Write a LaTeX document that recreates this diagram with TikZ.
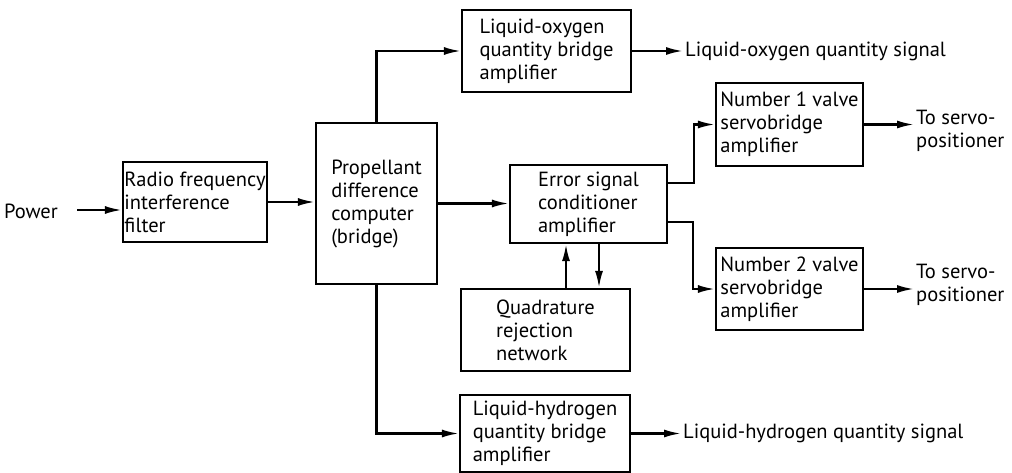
\documentclass[tikz,border=0pt]{standalone}
\usepackage{fontspec}
\setmainfont{PT Sans}
\usetikzlibrary{arrows.meta}
\begin{document}
\begin{tikzpicture}[x=1pt,y=-1pt,
  blk/.style={draw,line width=2.2pt,inner sep=0pt,align=left,
    font=\fontsize{20.5}{23}\selectfont},
  lbl/.style={inner sep=2pt,align=left,font=\fontsize{20.5}{23}\selectfont},
  conn/.style={line width=2.2pt,-{Latex[length=17pt,width=8pt]}}]
\useasboundingbox[fill=white] (0,0) rectangle (1012,473);
\node[blk,minimum width=144pt,minimum height=80pt] (rf) at (195,202) {Radio frequency\\interference\\filter};
\node[blk,minimum width=121pt,minimum height=161pt] (prop) at (376.5,203.5) {Propellant\\difference\\computer\\(bridge)};
\node[blk,minimum width=169pt,minimum height=82pt] (lox) at (546.5,51) {Liquid-oxygen\\quantity bridge\\amplifier};
\node[blk,minimum width=157pt,minimum height=78pt] (esc) at (588.5,204) {Error signal\\conditioner\\amplifier};
\node[blk,minimum width=169pt,minimum height=82pt] (qrn) at (545.5,330) {Quadrature\\rejection\\network};
\node[blk,minimum width=147pt,minimum height=83pt] (n1) at (789.5,124.5) {Number 1 valve\\servobridge\\amplifier};
\node[blk,minimum width=147pt,minimum height=82pt] (n2) at (789.5,289) {Number 2 valve\\servobridge\\amplifier};
\node[blk,minimum width=170pt,minimum height=77pt] (lh2) at (545,433.5) {Liquid-hydrogen\\quantity bridge\\amplifier};
\node[lbl,anchor=east] (pw) at (60,211) {Power};
\node[lbl,anchor=west] (loxs) at (683,51) {Liquid-oxygen quantity signal};
\node[lbl,anchor=west] (lh2s) at (681,433.5) {Liquid-hydrogen quantity signal};
\node[lbl,anchor=west] (ts1) at (914,131) {To servo-\\positioner};
\node[lbl,anchor=west] (ts2) at (914,285) {To servo-\\positioner};
\coordinate (pwa) at (77,210);
\coordinate (up) at (566,0);
\coordinate (dn) at (599,0);
\draw[conn] (pwa) -- (pwa -| rf.west);
\draw[conn] (rf.east) -- (rf.east -| prop.west);
\draw[conn] (prop.east) -- (prop.east -| esc.west);
\draw[conn] (prop.north) |- (lox.west);
\draw[conn] (prop.south) |- (lh2.west);
\draw[conn] (lox.east) -- (lox.east -| loxs.west);
\draw[conn] (lh2.east) -- (lh2.east -| lh2s.west);
\draw[conn] ([yshift=21pt]esc.east) -- ++(26,0) |- (n1.west);
\draw[conn] ([yshift=-18pt]esc.east) -- ++(25,0) |- (n2.west);
\draw[conn] (up |- qrn.north) -- (up |- esc.south);
\draw[conn] (dn |- esc.south) -- (dn |- qrn.north);
\draw[conn] (n1.east) -- (n1.east -| ts1.west);
\draw[conn] (n2.east) -- (n2.east -| ts2.west);
\end{tikzpicture}
\end{document}
